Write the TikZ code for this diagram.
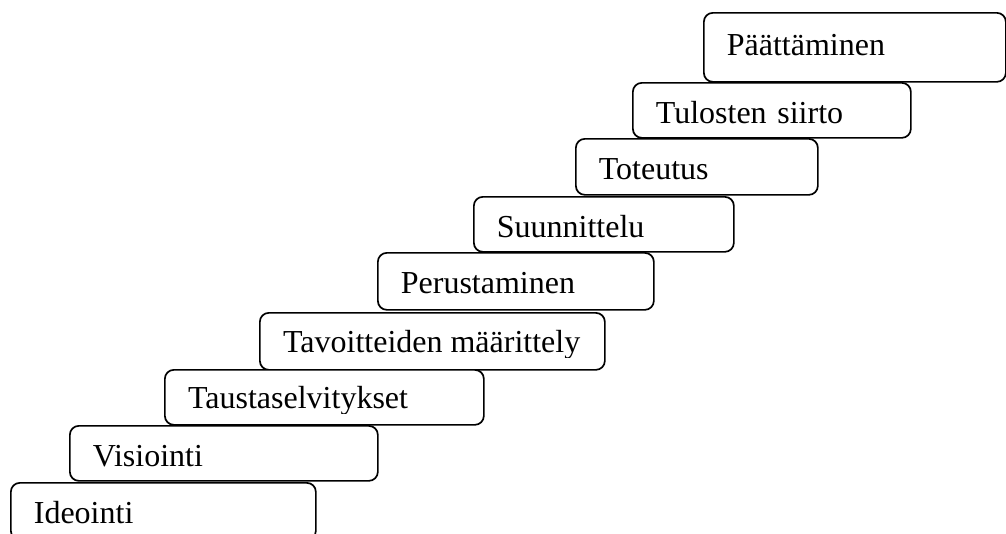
\documentclass[tikz,border=0pt]{standalone}
\usepackage{fontspec}
\setmainfont{Liberation Serif}

% text whose descenders are cut off a little below the baseline
\newcommand{\cuttext}[1]{\tikz[baseline=0pt]{\clip[overlay, sharp corners] (-2pt,-5pt) rectangle (400pt,40pt);
  \node [inner sep=0pt, anchor=base west, text width={}, text height={}, text depth={}, align=none] at (0pt,0pt) {#1};}}

\tikzset{
  stair/.style={draw, fill=white, line width=1.7pt, rounded corners=9pt, anchor=north west,
    inner xsep=23pt, inner ysep=0pt, align=left, font=\fontsize{32}{38}\selectfont}
}

\begin{document}
\begin{tikzpicture}[x=1pt, y=-1pt]
  \useasboundingbox (0, 0) rectangle (1006, 533);
  \clip (0, 0) rectangle (1006, 533);
  % from the top step down, so each lower box lies over the one above
  \foreach \id/\x/\y/\w/\hgt/\dep/\txt in {
      paattaminen/703/12/256/43/26/Päättäminen,
      siirto/632/82/232/41/14/Tulosten siirto,
      toteutus/575/138/196/41/15/Toteutus,
      suunnittelu/473/196/214/41/14/Suunnittelu,
      perustaminen/377/252/230/41/16/Perustaminen,
      tavoitteet/259/312/299/40/17/\cuttext{Tavoitteiden määrittely},
      tausta/164/369/273/39/16/\cuttext{Taustaselvitykset},
      visiointi/69/425/262/41/14/Visiointi,
      ideointi/10/482/259/41/16/Ideointi} {
    \node [stair, text width=\w pt, text height=\hgt pt, text depth=\dep pt] (\id) at (\x, \y) {\txt};
  }
\end{tikzpicture}
\end{document}
